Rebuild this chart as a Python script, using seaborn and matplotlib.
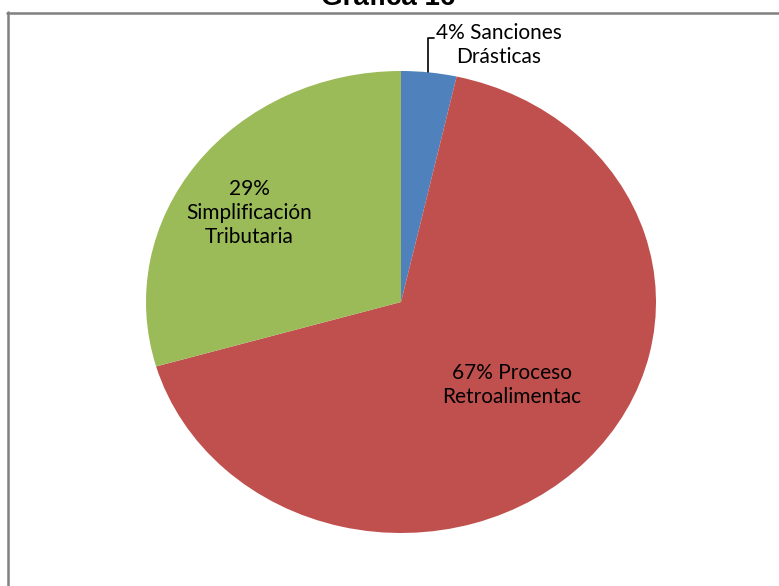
import matplotlib
matplotlib.use("Agg")
import matplotlib.pyplot as plt
import seaborn as sns
from matplotlib.lines import Line2D

# Data
categories = ["Sanciones Drásticas", "Proceso Retroalimentac", "Simplificación Tributaria"]
values = [3.5, 67.0, 29.5]
pct_labels = ["4%", "67%", "29%"]
colors = ["#4F81BD", "#C0504D", "#9BBB59"]

sns.set_style("white")
plt.rcParams["font.family"] = ["Lato", "DejaVu Sans"]
plt.rcParams["text.color"] = "black"

W, H = 779, 586
fig = plt.figure(figsize=(W / 100, H / 100), dpi=100)

# pie axes covers the (slightly elliptical) pie bounding box
ax = fig.add_axes([146 / W, (H - 533) / H, 510 / W, 462 / H])
ax.pie(values, colors=colors, startangle=90, counterclock=False,
       wedgeprops=dict(linewidth=0))
ax.set_aspect("auto")
ax.set_xlim(-1, 1)
ax.set_ylim(-1, 1)
ax.axis("off")

fs = 15
ax.text(-0.596, 0.385, f"{pct_labels[2]}\nSimplificación\nTributaria",
        ha="center", va="center", fontsize=fs, linespacing=1.25)
ax.text(0.435, -0.359, f"{pct_labels[1]} Proceso\nRetroalimentac",
        ha="center", va="center", fontsize=fs, linespacing=1.25)
ax.text(0.384, 1.113, f"{pct_labels[0]} Sanciones\nDrásticas",
        ha="center", va="center", fontsize=fs, linespacing=1.25, clip_on=False)
ax.plot([0.129, 0.106, 0.106], [1.143, 1.143, 0.996], color="black",
        linewidth=1.2, clip_on=False)

# chart frame
fig.add_artist(Line2D([7.5 / W, 7.5 / W], [0, 1 - 12 / H], color="#808080", linewidth=1.8))
fig.add_artist(Line2D([7 / W, 1], [1 - 12.5 / H, 1 - 12.5 / H], color="#808080", linewidth=1.8))

fig.text(388 / W, 1 - 5 / H, "Gráfica 16", ha="center", va="baseline",
         fontsize=20, fontweight="bold", color="black",
         family=["Liberation Sans", "DejaVu Sans"])

fig.savefig("out.png", dpi=100)
